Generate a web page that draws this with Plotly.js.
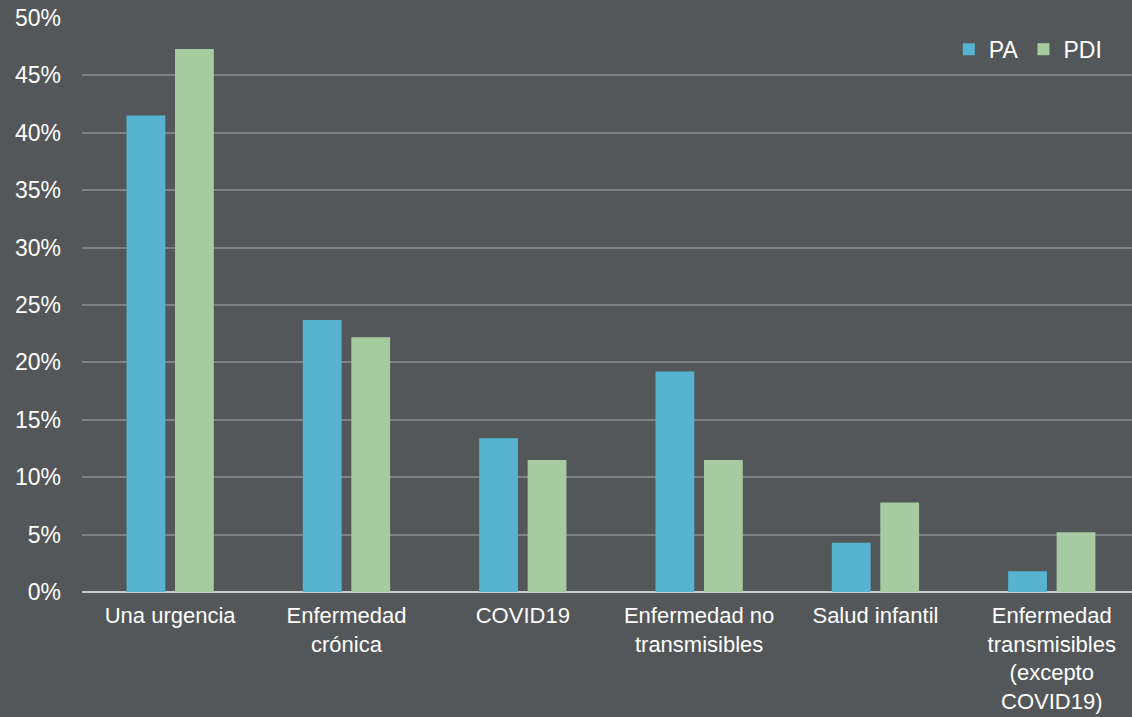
<!DOCTYPE html>
<html><head><meta charset="utf-8">
<script src="https://cdn.plot.ly/plotly-3.0.1.min.js"></script>
<style>html,body{margin:0;padding:0;background:#53575a;}</style>
</head><body>
<div id="chart" style="width:1132px;height:717px;"></div>
<script>
const categories = ["Una urgencia", "Enfermedad<br>crónica", "COVID19", "Enfermedad no<br>transmisibles", "Salud infantil", "Enfermedad<br>transmisibles<br>(excepto<br>COVID19)"];
const paValues = [0.415, 0.237, 0.134, 0.192, 0.043, 0.018];
const pdiValues = [0.473, 0.222, 0.115, 0.115, 0.078, 0.052];
const yTicks = [0, 0.05, 0.10, 0.15, 0.20, 0.25, 0.30, 0.35, 0.40, 0.45, 0.50];

const data = [
  {type: 'bar', name: 'PA', x: categories, y: paValues, marker: {color: '#56b4d0'}},
  {type: 'bar', name: 'PDI', x: categories, y: pdiValues, marker: {color: '#a6cba0'}}
];
const layout = {
  width: 1132, height: 717,
  paper_bgcolor: '#53575a', plot_bgcolor: '#53575a',
  margin: {l: 82, r: 0, t: 18, b: 125},
  font: {family: 'Liberation Sans, Arial, sans-serif', size: 22, color: '#ffffff'},
  barmode: 'group', bargap: 0.45, bargroupgap: 0.2,
  showlegend: true,
  legend: {orientation: 'h', x: 0.976, xanchor: 'right', y: 0.983, yanchor: 'top', font: {size: 23, color: '#ffffff'}, bgcolor: 'rgba(0,0,0,0)', itemwidth: 30},
  xaxis: {type: 'category', range: [-0.5, 5.455], showgrid: false, tickfont: {size: 22, color: '#ffffff'}, ticks: '', showline: false, automargin: false, ticklabelstandoff: 8},
  yaxis: {range: [0, 0.5], tickvals: yTicks, tickformat: '.0%', showgrid: true, gridcolor: '#7f8284', gridwidth: 2, zeroline: true, zerolinecolor: '#c9c9c9', zerolinewidth: 2, tickfont: {size: 23, color: '#ffffff'}, ticks: '', ticklabelstandoff: 20, automargin: false}
};
Plotly.newPlot('chart', data, layout, {displayModeBar: false});
</script>
</body></html>
